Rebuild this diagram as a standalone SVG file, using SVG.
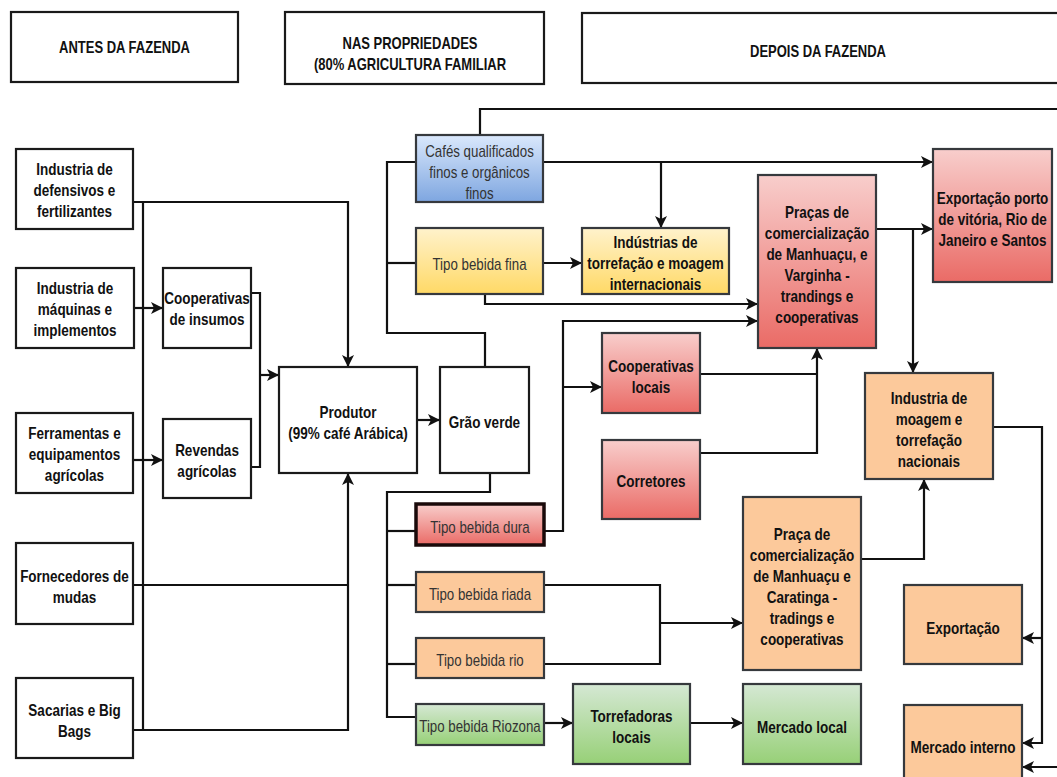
<svg xmlns="http://www.w3.org/2000/svg" width="1057" height="777" viewBox="0 0 1057 777">
  <defs>
    <linearGradient id="gBlue" x1="0" y1="0" x2="0" y2="1">
      <stop offset="0" stop-color="#dae8fc"/>
      <stop offset="1" stop-color="#7ea6e0"/>
    </linearGradient>
    <linearGradient id="gYellow" x1="0" y1="0" x2="0" y2="1">
      <stop offset="0" stop-color="#fff2cc"/>
      <stop offset="1" stop-color="#ffd966"/>
    </linearGradient>
    <linearGradient id="gRed" x1="0" y1="0" x2="0" y2="1">
      <stop offset="0" stop-color="#f8cecc"/>
      <stop offset="1" stop-color="#ea6b66"/>
    </linearGradient>
    <linearGradient id="gGreen" x1="0" y1="0" x2="0" y2="1">
      <stop offset="0" stop-color="#d5e8d4"/>
      <stop offset="1" stop-color="#97d077"/>
    </linearGradient>
    <marker id="arr" markerUnits="userSpaceOnUse" markerWidth="12" markerHeight="12" refX="10" refY="5" orient="auto" viewBox="0 0 10 10">
      <path d="M0,0 L10,5 L0,10 L2.5,5 z" fill="#111"/>
    </marker>
  </defs>
  <style>
    .plain { fill: #fff; stroke: #1a1a1a; stroke-width: 2.2; }
    .blue { fill: url(#gBlue); stroke: #36393d; stroke-width: 2.2; }
    .yellow { fill: url(#gYellow); stroke: #36393d; stroke-width: 2.2; }
    .red { fill: url(#gRed); stroke: #36393d; stroke-width: 2.2; }
    .green { fill: url(#gGreen); stroke: #36393d; stroke-width: 2.2; }
    .orange { fill: #fcc99b; stroke: #36393d; stroke-width: 2.2; }
    .thick { stroke: #1a0a0a; stroke-width: 3.5; }
    text, tspan { font-family: "Liberation Sans", Arial, sans-serif; text-anchor: middle; dominant-baseline: central; }
    .b { font-size: 13.5px; font-weight: bold; fill: #111; }
    .h { font-size: 13px; font-weight: bold; fill: #111; }
    .r { font-size: 13.3px; fill: #333; }
    .wire { fill: none; stroke: #111; stroke-width: 2.2; }
    .arrow { marker-end: url(#arr); }
  </style>
  <rect width="1057" height="777" fill="#fff"/>

  <!-- stage headers -->
  <g id="h_antes">
    <rect class="plain" x="11" y="12" width="227" height="70"/>
    <g transform="translate(124.5,46) scale(1,1.28)"><text class="h"><tspan x="0" y="0">ANTES DA FAZENDA</tspan></text></g>
  </g>
  <g id="h_nas">
    <rect class="plain" x="285" y="12" width="259" height="72"/>
    <g transform="translate(410,52.5) scale(1,1.28)"><text class="h"><tspan x="0" y="-8.2">NAS PROPRIEDADES</tspan><tspan x="0" y="8.2">(80% AGRICULTURA FAMILIAR</tspan></text></g>
  </g>
  <g id="h_depois">
    <rect class="plain" x="582" y="13" width="480" height="70"/>
    <g transform="translate(818,50) scale(1,1.28)"><text class="h"><tspan x="0" y="0">DEPOIS DA FAZENDA</tspan></text></g>
  </g>

  <!-- connectors -->
  <g id="connectors">
    <path class="wire arrow" d="M133,202 H348 V367"/>
    <path class="wire" d="M143,202 V730"/>
    <path class="wire arrow" d="M134,308 H163"/>
    <path class="wire arrow" d="M133,460 H163"/>
    <path class="wire" d="M251,293 H260 V467 H251"/>
    <path class="wire arrow" d="M260,375 H279"/>
    <path class="wire" d="M133,585 H348"/>
    <path class="wire arrow" d="M133,730 H348 V473"/>
    <path class="wire arrow" d="M417,420 H440"/>
    <path class="wire" d="M485,367 V333 H387 V162 H416"/>
    <path class="wire" d="M387,263 H416"/>
    <path class="wire" d="M480,135 V109 H1060"/>
    <path class="wire arrow" d="M543,162 H933"/>
    <path class="wire arrow" d="M661,162 V228"/>
    <path class="wire arrow" d="M543,263 H582"/>
    <path class="wire arrow" d="M485,294 V304 H758"/>
    <path class="wire" d="M490,473 V492 H387 V717 H416"/>
    <path class="wire" d="M387,531 H416"/>
    <path class="wire" d="M387,585 H416"/>
    <path class="wire" d="M387,664 H416"/>
    <path class="wire arrow" d="M544,531 H563 V321 H758"/>
    <path class="wire arrow" d="M563,387 H602"/>
    <path class="wire" d="M700,374 H817"/>
    <path class="wire arrow" d="M700,453 H817 V348"/>
    <path class="wire arrow" d="M876,229 H933"/>
    <path class="wire arrow" d="M913,229 V373"/>
    <path class="wire" d="M544,585 H660 V664 H544"/>
    <path class="wire arrow" d="M660,623 H743"/>
    <path class="wire arrow" d="M861,559 H924 V479"/>
    <path class="wire arrow" d="M544,723 H573"/>
    <path class="wire arrow" d="M690,723 H743"/>
    <path class="wire arrow" d="M993,427 H1042 V743 H1022"/>
    <path class="wire arrow" d="M1042,638 H1022"/>
    <path class="wire arrow" d="M1060,767 H1022"/>
  </g>

  <!-- before the farm -->
  <g id="n_defensivos">
    <rect class="plain" x="16" y="149" width="117" height="80"/>
    <g transform="translate(74.5,189) scale(1,1.28)"><text class="b"><tspan x="0" y="-16.4">Industria de</tspan><tspan x="0" y="0">defensivos e</tspan><tspan x="0" y="16.4">fertilizantes</tspan></text></g>
  </g>
  <g id="n_maquinas">
    <rect class="plain" x="16" y="268" width="118" height="80"/>
    <g transform="translate(75,308) scale(1,1.28)"><text class="b"><tspan x="0" y="-16.4">Industria de</tspan><tspan x="0" y="0">máquinas e</tspan><tspan x="0" y="16.4">implementos</tspan></text></g>
  </g>
  <g id="n_ferramentas">
    <rect class="plain" x="16" y="413" width="117" height="80"/>
    <g transform="translate(74.5,453) scale(1,1.28)"><text class="b"><tspan x="0" y="-16.4">Ferramentas e</tspan><tspan x="0" y="0">equipamentos</tspan><tspan x="0" y="16.4">agrícolas</tspan></text></g>
  </g>
  <g id="n_fornecedores">
    <rect class="plain" x="16" y="543" width="117" height="81"/>
    <g transform="translate(74.5,586) scale(1,1.28)"><text class="b"><tspan x="0" y="-8.2">Fornecedores de</tspan><tspan x="0" y="8.2">mudas</tspan></text></g>
  </g>
  <g id="n_sacarias">
    <rect class="plain" x="16" y="678" width="117" height="80"/>
    <g transform="translate(74.5,720) scale(1,1.28)"><text class="b"><tspan x="0" y="-8.2">Sacarias e Big</tspan><tspan x="0" y="8.2">Bags</tspan></text></g>
  </g>
  <g id="n_coop_insumos">
    <rect class="plain" x="163" y="268" width="88" height="80"/>
    <g transform="translate(207,308) scale(1,1.28)"><text class="b"><tspan x="0" y="-8.2">Cooperativas</tspan><tspan x="0" y="8.2">de insumos</tspan></text></g>
  </g>
  <g id="n_revendas">
    <rect class="plain" x="163" y="419" width="88" height="79"/>
    <g transform="translate(207,460) scale(1,1.28)"><text class="b"><tspan x="0" y="-8.2">Revendas</tspan><tspan x="0" y="8.2">agrícolas</tspan></text></g>
  </g>

  <!-- on the farm -->
  <g id="n_produtor">
    <rect class="plain" x="279" y="367" width="138" height="106"/>
    <g transform="translate(348,422) scale(1,1.28)"><text class="b"><tspan x="0" y="-8.2">Produtor</tspan><tspan x="0" y="8.2">(99% café Arábica)</tspan></text></g>
  </g>
  <g id="n_grao">
    <rect class="plain" x="440" y="367" width="89" height="106"/>
    <g transform="translate(484.5,421) scale(1,1.28)"><text class="b"><tspan x="0" y="0">Grão verde</tspan></text></g>
  </g>
  <g id="n_cafes">
    <rect class="blue" x="416" y="135" width="127" height="67"/>
    <g transform="translate(479.5,171) scale(1,1.28)"><text class="r"><tspan x="0" y="-16.4">Cafés qualificados</tspan><tspan x="0" y="0">finos e orgânicos</tspan><tspan x="0" y="16.4">finos</tspan></text></g>
  </g>
  <g id="n_fina">
    <rect class="yellow" x="416" y="228" width="127" height="66"/>
    <g transform="translate(479.5,263) scale(1,1.28)"><text class="r"><tspan x="0" y="0">Tipo bebida fina</tspan></text></g>
  </g>
  <g id="n_dura">
    <rect class="red thick" x="416" y="504" width="128" height="41"/>
    <g transform="translate(480,526) scale(1,1.28)"><text class="r"><tspan x="0" y="0">Tipo bebida dura</tspan></text></g>
  </g>
  <g id="n_riada">
    <rect class="orange" x="416" y="572" width="128" height="40"/>
    <g transform="translate(480,593) scale(1,1.28)"><text class="r"><tspan x="0" y="0">Tipo bebida riada</tspan></text></g>
  </g>
  <g id="n_rio">
    <rect class="orange" x="416" y="638" width="128" height="40"/>
    <g transform="translate(480,659) scale(1,1.28)"><text class="r"><tspan x="0" y="0">Tipo bebida rio</tspan></text></g>
  </g>
  <g id="n_riozona">
    <rect class="green" x="416" y="704" width="128" height="41"/>
    <g transform="translate(480,725) scale(1,1.28)"><text class="r"><tspan x="0" y="0">Tipo bebida Riozona</tspan></text></g>
  </g>

  <!-- after the farm -->
  <g id="n_ind_intl">
    <rect class="yellow" x="582" y="228" width="147" height="66"/>
    <g transform="translate(655.5,262.5) scale(1,1.28)"><text class="b"><tspan x="0" y="-16.4">Indústrias de</tspan><tspan x="0" y="0">torrefação e moagem</tspan><tspan x="0" y="16.4">internacionais</tspan></text></g>
  </g>
  <g id="n_pracas">
    <rect class="red" x="758" y="175" width="118" height="173"/>
    <g transform="translate(817,264) scale(1,1.28)"><text class="b"><tspan x="0" y="-41">Praças de</tspan><tspan x="0" y="-24.6">comercialização</tspan><tspan x="0" y="-8.2">de Manhuaçu, e</tspan><tspan x="0" y="8.2">Varginha -</tspan><tspan x="0" y="24.6">trandings e</tspan><tspan x="0" y="41">cooperativas</tspan></text></g>
  </g>
  <g id="n_export_porto">
    <rect class="red" x="933" y="149" width="119" height="133"/>
    <g transform="translate(992.5,218) scale(1,1.28)"><text class="b"><tspan x="0" y="-16.4">Exportação porto</tspan><tspan x="0" y="0">de vitória, Rio de</tspan><tspan x="0" y="16.4">Janeiro e Santos</tspan></text></g>
  </g>
  <g id="n_coop_locais">
    <rect class="red" x="602" y="333" width="98" height="80"/>
    <g transform="translate(651,375.5) scale(1,1.28)"><text class="b"><tspan x="0" y="-8.2">Cooperativas</tspan><tspan x="0" y="8.2">locais</tspan></text></g>
  </g>
  <g id="n_corretores">
    <rect class="red" x="602" y="440" width="98" height="79"/>
    <g transform="translate(651,480) scale(1,1.28)"><text class="b"><tspan x="0" y="0">Corretores</tspan></text></g>
  </g>
  <g id="n_ind_nac">
    <rect class="orange" x="865" y="373" width="128" height="106"/>
    <g transform="translate(929,428.5) scale(1,1.28)"><text class="b"><tspan x="0" y="-24.6">Industria de</tspan><tspan x="0" y="-8.2">moagem e</tspan><tspan x="0" y="8.2">torrefação</tspan><tspan x="0" y="24.6">nacionais</tspan></text></g>
  </g>
  <g id="n_praca_car">
    <rect class="orange" x="743" y="497" width="118" height="173"/>
    <g transform="translate(802,586) scale(1,1.28)"><text class="b"><tspan x="0" y="-41">Praça de</tspan><tspan x="0" y="-24.6">comercialização</tspan><tspan x="0" y="-8.2">de Manhuaçu e</tspan><tspan x="0" y="8.2">Caratinga -</tspan><tspan x="0" y="24.6">tradings e</tspan><tspan x="0" y="41">cooperativas</tspan></text></g>
  </g>
  <g id="n_torref_locais">
    <rect class="green" x="573" y="684" width="117" height="80"/>
    <g transform="translate(631.5,725.5) scale(1,1.28)"><text class="b"><tspan x="0" y="-8.2">Torrefadoras</tspan><tspan x="0" y="8.2">locais</tspan></text></g>
  </g>
  <g id="n_mercado_local">
    <rect class="green" x="743" y="684" width="118" height="80"/>
    <g transform="translate(802,726) scale(1,1.28)"><text class="b"><tspan x="0" y="0">Mercado local</tspan></text></g>
  </g>
  <g id="n_exportacao">
    <rect class="orange" x="904" y="585" width="118" height="79"/>
    <g transform="translate(963,627) scale(1,1.28)"><text class="b"><tspan x="0" y="0">Exportação</tspan></text></g>
  </g>
  <g id="n_mercado_interno">
    <rect class="orange" x="904" y="705" width="118" height="85"/>
    <g transform="translate(963,746) scale(1,1.28)"><text class="b"><tspan x="0" y="0">Mercado interno</tspan></text></g>
  </g>
</svg>
